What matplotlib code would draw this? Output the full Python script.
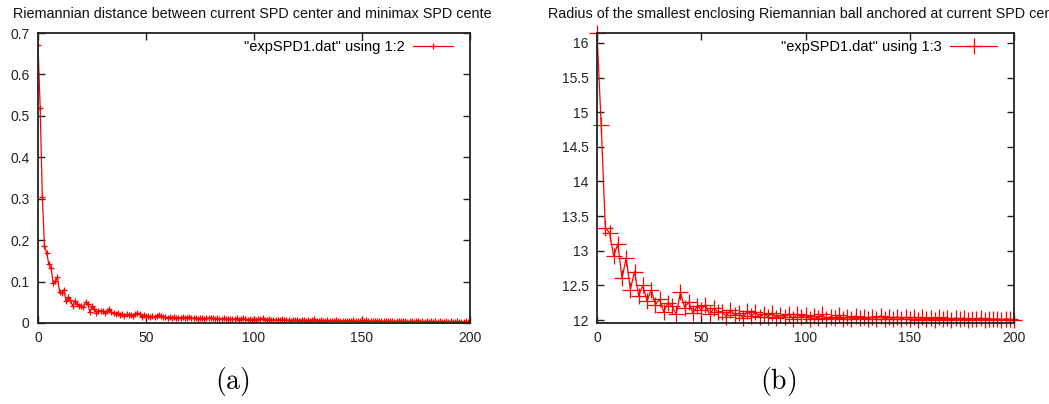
import numpy as np
import matplotlib
matplotlib.use("Agg")
import matplotlib.pyplot as plt
from matplotlib.transforms import Bbox, TransformedBbox

plt.rcParams['font.family'] = ['Liberation Sans', 'DejaVu Sans']
plt.rcParams['mathtext.fontset'] = 'cm'

# distance to minimax center, one value per iteration 0..200
iter_a = list(range(0, 201))
dist_a = [
    0.672, 0.520, 0.305, 0.185, 0.170, 0.142, 0.133, 0.097, 0.101, 0.110,
    0.075, 0.073, 0.080, 0.052, 0.062, 0.055, 0.041, 0.053, 0.046, 0.042,
    0.040, 0.038, 0.050, 0.047, 0.027, 0.040, 0.035, 0.025, 0.030, 0.029,
    0.029, 0.025, 0.028, 0.034, 0.026, 0.024, 0.022, 0.025, 0.019, 0.022,
    0.018, 0.021, 0.019, 0.020, 0.018, 0.022, 0.024, 0.022, 0.015, 0.019,
    0.016, 0.017, 0.015, 0.016, 0.014, 0.017, 0.020, 0.016, 0.015, 0.014,
    0.013, 0.015, 0.012, 0.014, 0.011, 0.013, 0.012, 0.014, 0.013, 0.012,
    0.015, 0.012, 0.011, 0.013, 0.010, 0.012, 0.011, 0.010, 0.012, 0.011,
    0.013, 0.011, 0.010, 0.011, 0.009, 0.010, 0.011, 0.009, 0.010, 0.009,
    0.010, 0.009, 0.011, 0.008, 0.010, 0.011, 0.009, 0.008, 0.009, 0.008,
    0.009, 0.008, 0.009, 0.010, 0.011, 0.008, 0.007, 0.009, 0.008, 0.007,
    0.008, 0.007, 0.008, 0.009, 0.007, 0.008, 0.007, 0.006, 0.008, 0.007,
    0.007, 0.006, 0.008, 0.007, 0.006, 0.007, 0.006, 0.007, 0.009, 0.006,
    0.006, 0.007, 0.006, 0.005, 0.007, 0.006, 0.005, 0.006, 0.007, 0.005,
    0.006, 0.005, 0.006, 0.005, 0.006, 0.005, 0.007, 0.005, 0.004, 0.005,
    0.006, 0.005, 0.007, 0.004, 0.005, 0.004, 0.005, 0.006, 0.004, 0.005,
    0.004, 0.005, 0.004, 0.005, 0.004, 0.003, 0.005, 0.004, 0.005, 0.004,
    0.004, 0.003, 0.004, 0.005, 0.003, 0.004, 0.006, 0.003, 0.004, 0.003,
    0.004, 0.003, 0.004, 0.003, 0.004, 0.003, 0.004, 0.003, 0.003, 0.004,
    0.003, 0.004, 0.003, 0.003, 0.004, 0.003, 0.002, 0.003, 0.004, 0.003,
    0.003,
]

# radius of enclosing ball, every second iteration
iter_b = list(range(0, 201, 2))
radius_b = [
    16.14, 14.82, 13.33, 13.26, 12.92, 13.10, 12.60, 12.90, 12.44, 12.70,
    12.35, 12.50, 12.27, 12.44, 12.22, 12.30, 12.12, 12.25, 12.20, 12.08,
    12.40, 12.18, 12.26, 12.10, 12.20, 12.15, 12.22, 12.08, 12.17, 12.12,
    12.12, 12.05, 12.15, 12.07, 12.10, 12.03, 12.13, 12.06, 12.11, 12.04,
    12.09, 12.05, 12.10, 12.03, 12.07, 12.05, 12.09, 12.02, 12.08, 12.04,
    12.07, 12.02, 12.06, 12.03, 12.08, 12.02, 12.05, 12.03, 12.07, 12.01,
    12.05, 12.02, 12.06, 12.03, 12.04, 12.01, 12.05, 12.02, 12.06, 12.01,
    12.04, 12.02, 12.05, 12.01, 12.04, 12.02, 12.04, 12.00, 12.04, 12.02,
    12.03, 12.00, 12.04, 12.01, 12.03, 12.00, 12.03, 12.01, 12.03, 12.00,
    12.02, 12.01, 12.03, 12.00, 12.02, 12.01, 12.02, 12.00, 12.02, 12.01,
    12.00,
]

xticks = [0, 50, 100, 150, 200]
yticks_a = [0, 0.1, 0.2, 0.3, 0.4, 0.5, 0.6, 0.7]
yticks_b = [12, 12.5, 13, 13.5, 14, 14.5, 15, 15.5, 16]

W, H = 1049, 404
fig = plt.figure(figsize=(W / 100, H / 100), dpi=100)

def px_axes(x0, x1, y0, y1):
    return fig.add_axes([x0 / W, 1 - y1 / H, (x1 - x0) / W, (y1 - y0) / H])

ax1 = px_axes(38, 470, 33, 323)
ax2 = px_axes(597, 1014, 33, 323)

ax1.plot(iter_a, dist_a, color='#ff0000', lw=0.9, marker='+', ms=4, mew=0.9,
         label='"expSPD1.dat" using 1:2')
ax2.plot(iter_b, radius_b, color='#ff0000', lw=0.9, marker='+', ms=11, mew=0.9,
         label='"expSPD1.dat" using 1:3', clip_on=False)

ax1.set_xlim(0, 200)
ax1.set_ylim(0, 0.7)
ax2.set_xlim(0, 200)
ax2.set_ylim(11.957, 16.144)

for ax, yt, hl, ax_x in ((ax1, yticks_a, 2.75, 0.961), (ax2, yticks_b, 3.2, 0.959)):
    ax.set_xticks(xticks)
    ax.set_xticklabels([f'{t:g}' for t in xticks])
    ax.set_yticks(yt)
    ax.set_yticklabels([f'{t:g}' for t in yt])
    ax.tick_params(direction='in', length=5, width=1, top=True, right=True,
                   labelsize=10, pad=6, colors='#222222')
    for s in ax.spines.values():
        s.set_linewidth(1.3)
        s.set_color('#222222')
    ax.legend(loc='upper right', bbox_to_anchor=(ax_x, 0.975), frameon=False,
              markerfirst=False, fontsize=10.5, handlelength=hl,
              borderaxespad=0, borderpad=0, handletextpad=0.6)

# titles, cropped like the original images
t1 = fig.text(13 / W, 1 - 18 / H, 'Riemannian distance between current SPD center and minimax SPD center',
              fontsize=10.4, ha='left', va='baseline', color='#111111')
t1.set_clip_box(TransformedBbox(Bbox.from_extents(0, 0, 492 / W, 1), fig.transFigure))
t1.set_clip_on(True)
t2 = fig.text(548 / W, 1 - 18 / H, 'Radius of the smallest enclosing Riemannian ball anchored at current SPD center',
              fontsize=10.4, ha='left', va='baseline', color='#111111')
t2.set_clip_box(TransformedBbox(Bbox.from_extents(0, 0, 1, 1), fig.transFigure))
t2.set_clip_on(True)

fig.text(232 / W, 1 - 382 / H, r'$\mathrm{(a)}$', fontsize=20, ha='center', va='center')
fig.text(778 / W, 1 - 382 / H, r'$\mathrm{(b)}$', fontsize=20, ha='center', va='center')

fig.savefig('out.png', dpi=100)
